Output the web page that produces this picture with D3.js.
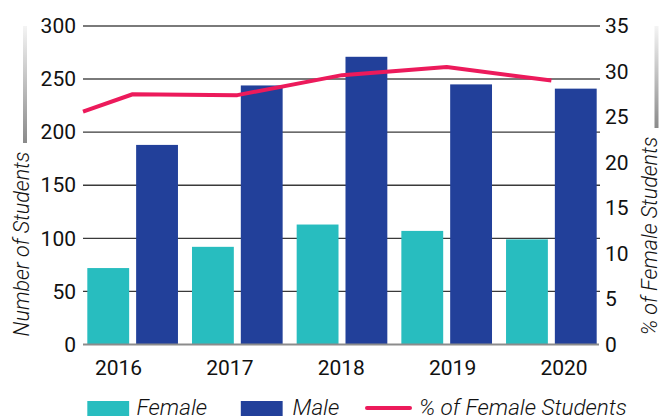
<!DOCTYPE html>
<html>
<head>
<meta charset="utf-8">
<script src="https://cdn.jsdelivr.net/npm/d3@7"></script>
<style>
  html, body { margin: 0; padding: 0; background: #fff; }
  svg { display: block; }
  text { font-family: Roboto, "Liberation Sans", sans-serif; fill: #111; }
</style>
</head>
<body>
<svg id="chart"></svg>
<script>
// ─── Data ─────────────────────────────────────────────
const years = ["2016", "2017", "2018", "2019", "2020"];
const female = [72, 92, 113, 107, 99];
const male = [188, 244, 271, 245, 241];
const pctFemale = [27.5, 27.4, 29.6, 30.5, 29.0];
const pctLead = 25.6;          // line starts at the left edge of the plot
const leftTicks = [0, 50, 100, 150, 200, 250, 300];
const rightTicks = [0, 5, 10, 15, 20, 25, 30, 35];

const COLORS = {
  female: "#28BDBF",
  male:   "#22409A",
  pct:    "#EC1A5B",
};

const W = 661, H = 416;
const plotLeft = 83, plotRight = 598;
const plotTop = 26, plotBottom = 344.5;

const svg = d3.select("#chart").attr("width", W).attr("height", H);

// Gradient for the decorative axis bars
const defs = svg.append("defs");
const grad = defs.append("linearGradient")
  .attr("id", "fade").attr("x1", 0).attr("y1", 0).attr("x2", 0).attr("y2", 1);
grad.append("stop").attr("offset", "0%").attr("stop-color", "#f4f4f4");
grad.append("stop").attr("offset", "100%").attr("stop-color", "#8a8a8a");

// Scales
const x = d3.scaleBand().domain(years)
  .range([80.3, 603.7]).paddingInner(0.134).paddingOuter(0.067);
const xSub = d3.scaleBand().domain(["Female", "Male"])
  .range([0, x.bandwidth()]).paddingInner(0.143);
const xLabel = d3.scalePoint().domain(years).range([118.5, 564]);
const y = d3.scaleLinear().domain([0, 300]).range([plotBottom, plotTop]);
const y2 = d3.scaleLinear().domain([0, 35]).range([plotBottom, plotTop]);

// Gridlines
svg.append("g").attr("class", "grid")
  .selectAll("line")
  .data(leftTicks.filter(d => d > 0))
  .join("line")
  .attr("x1", plotLeft).attr("x2", plotRight + 2)
  .attr("y1", d => y(d)).attr("y2", d => y(d))
  .attr("stroke", d => d >= 250 ? "#7a7a7a" : "#3a3a3a")
  .attr("stroke-width", d => d >= 250 ? 2 : 1.3);

// Bars
const groups = svg.append("g").attr("class", "bars")
  .selectAll("g")
  .data(years.map((yr, i) => ({ year: yr, Female: female[i], Male: male[i] })))
  .join("g")
  .attr("transform", d => `translate(${x(d.year)},0)`);

groups.selectAll("rect")
  .data(d => ["Female", "Male"].map(k => ({ key: k, value: d[k] })))
  .join("rect")
  .attr("x", d => xSub(d.key))
  .attr("width", xSub.bandwidth())
  .attr("y", d => y(d.value))
  .attr("height", d => y(0) - y(d.value))
  .attr("fill", d => d.key === "Female" ? COLORS.female : COLORS.male);

// Baseline
svg.append("line")
  .attr("x1", plotLeft).attr("x2", plotRight + 1)
  .attr("y1", y(0)).attr("y2", y(0))
  .attr("stroke", "#8c8c8c").attr("stroke-width", 2);

// Percentage line
const pctPoints = [{ x: plotLeft, v: pctLead }]
  .concat(years.map((yr, i) => ({ x: x(yr) + x.bandwidth() / 2, v: pctFemale[i] })));
svg.append("path")
  .datum(pctPoints)
  .attr("fill", "none")
  .attr("stroke", COLORS.pct)
  .attr("stroke-width", 4)
  .attr("stroke-linejoin", "round")
  .attr("d", d3.line().x(d => d.x).y(d => y2(d.v)));

// Left axis
const leftAxis = svg.append("g")
  .attr("transform", `translate(${plotLeft},0)`)
  .call(d3.axisLeft(y).tickValues(leftTicks).tickSize(0).tickPadding(7));
leftAxis.select(".domain").remove();
leftAxis.selectAll("text").attr("font-size", 21).attr("fill", "#111")
  .attr("font-family", "Roboto, sans-serif");

// Right axis labels
const rightAxis = svg.append("g")
  .attr("transform", `translate(${plotRight},0)`)
  .call(d3.axisRight(y2).tickValues(rightTicks).tickSize(0).tickPadding(7));
rightAxis.select(".domain").remove();
rightAxis.selectAll("text").attr("font-size", 21).attr("fill", "#111")
  .attr("font-family", "Roboto, sans-serif");

// Year labels
svg.append("g").selectAll("text")
  .data(years)
  .join("text")
  .attr("x", d => xLabel(d))
  .attr("y", 375)
  .attr("text-anchor", "middle")
  .attr("font-size", 21)
  .text(d => d);

// Axis titles
svg.append("text")
  .attr("transform", `translate(29,244) rotate(-90)`)
  .attr("text-anchor", "middle")
  .attr("font-size", 21.5).attr("font-style", "italic").attr("font-weight", 300)
  .text("Number of Students");

svg.append("text")
  .attr("transform", `translate(657,236) rotate(-90)`)
  .attr("text-anchor", "middle")
  .attr("font-size", 21.5).attr("font-style", "italic").attr("font-weight", 300)
  .text("% of Female Students");

// Decorative gradient bars
svg.append("rect").attr("x", 23).attr("y", 26).attr("width", 4).attr("height", 117)
  .attr("fill", "url(#fade)");
svg.append("rect").attr("x", 654.5).attr("y", 26).attr("width", 4).attr("height", 102)
  .attr("fill", "url(#fade)");

// Legend
const legend = svg.append("g").attr("class", "legend");
const sw = xSub.bandwidth();
const legendFont = 22.5;
legend.append("rect").attr("x", x(years[0]) + xSub("Female")).attr("y", 401)
  .attr("width", sw).attr("height", 20).attr("fill", COLORS.female);
legend.append("text").attr("x", 136.5).attr("y", 415)
  .attr("font-size", legendFont).attr("font-style", "italic").attr("font-weight", 300)
  .text("Female");
legend.append("rect").attr("x", x(years[1]) + xSub("Male")).attr("y", 401)
  .attr("width", sw).attr("height", 20).attr("fill", COLORS.male);
legend.append("text").attr("x", 292.5).attr("y", 415)
  .attr("font-size", legendFont).attr("font-style", "italic").attr("font-weight", 300)
  .text("Male");
legend.append("line").attr("x1", 367).attr("x2", 410).attr("y1", 408).attr("y2", 408)
  .attr("stroke", COLORS.pct).attr("stroke-width", 4).attr("stroke-linecap", "round");
legend.append("text").attr("x", 419).attr("y", 415)
  .attr("font-size", legendFont).attr("font-style", "italic").attr("font-weight", 300)
  .text("% of Female Students");
</script>
</body>
</html>
